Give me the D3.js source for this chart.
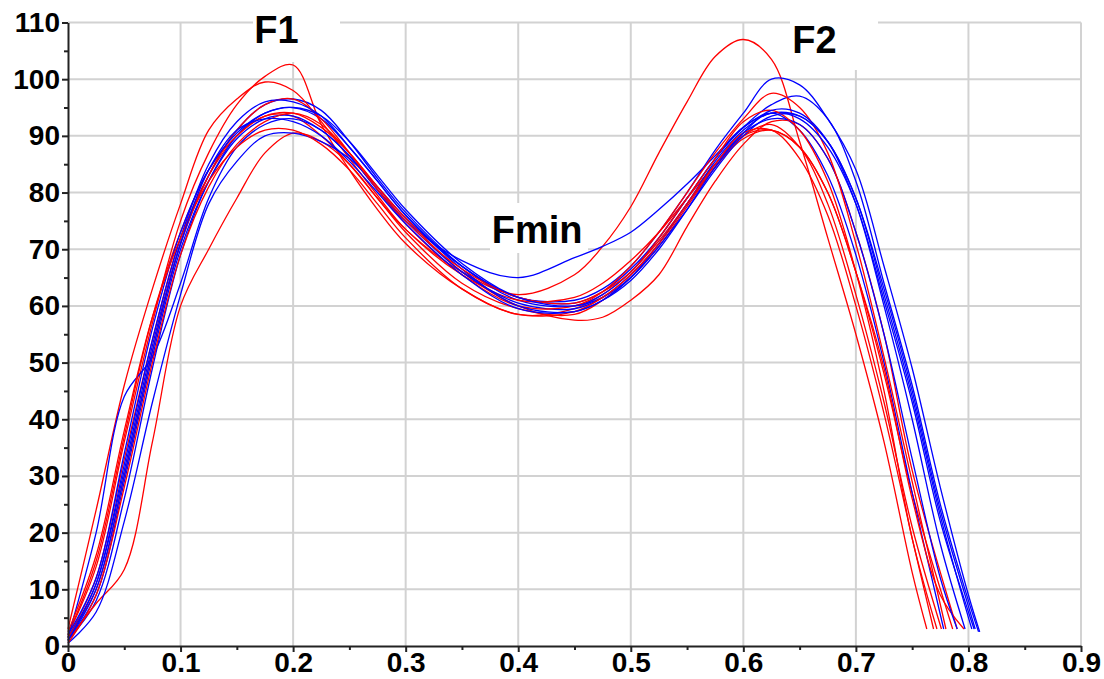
<!DOCTYPE html>
<html><head><meta charset="utf-8">
<script src="https://cdn.jsdelivr.net/npm/d3@7"></script>
<style>body{margin:0;background:#fff}svg{display:block}</style>
</head><body>
<svg id="c" width="1104" height="679"></svg>
<script>
// ---- data ----
const xTicks = [0, 0.1, 0.2, 0.3, 0.4, 0.5, 0.6, 0.7, 0.8, 0.9];
const xTickLabels = ["0", "0.1", "0.2", "0.3", "0.4", "0.5", "0.6", "0.7", "0.8", "0.9"];
const yTicks = [0, 10, 20, 30, 40, 50, 60, 70, 80, 90, 100, 110];
const yTickLabels = ["0", "10", "20", "30", "40", "50", "60", "70", "80", "90", "100", "110"];

// shared sample positions (time, s)
const XS = [0, .025, .05, .075, .1, .125, .15, .175, .2, .225, .25, .275, .3, .35, .4, .45, .475, .5, .525, .55, .575, .6, .625, .65, .675, .7, .725, .75];

// red series (force values at XS) + tail points
const red1 = [1.5, 12, 33, 54, 72, 83, 90, 93.5, 93.5, 90, 85, 79, 73.5, 66, 62, 65.5, 70.5, 77.5, 87, 96, 104, 107, 103.5, 89, 72, 55, 36, 13];
const red1Tail = [[.763, 3]];
const red2 = [2, 14, 36, 57, 75, 87, 95.5, 100.5, 102.5, 92, 84, 77, 71, 63, 58.5, 59.5, 62, 66, 71.5, 78, 84.5, 90, 92, 88, 78, 62, 43, 21];
const red2Tail = [[.776, 3]];
const red3 = [3, 24, 46, 63, 78, 91, 96.5, 99.5, 98, 92.5, 86, 79.5, 73.5, 65.5, 61, 61.5, 64, 68, 73, 79, 85, 90, 91, 88, 80, 66, 48, 27];
const red3Tail = [[.786, 3]];
const red4 = [1, 7.5, 13.5, 36, 60, 70, 79, 87, 90.5, 89, 85, 79, 73, 64, 59.5, 58.5, 61, 65, 70.5, 77.5, 84.5, 89.5, 91, 88, 80, 66, 49, 26];
const red4Tail = [[.775, 9], [.796, 3]];
const red5 = [2, 15, 37, 58, 73, 84, 90, 93.5, 94, 91.5, 87, 81, 75.5, 66, 60, 57.5, 58, 61, 65.5, 74, 82, 88.5, 92.5, 92, 86, 73, 55, 31];
const red5Tail = [[.79, 3]];
const red6 = [1.5, 10, 30, 52, 71, 83, 91, 95.5, 96.5, 93, 87, 80.5, 74.5, 65.5, 60, 60, 62.5, 67, 73, 80, 87, 93, 97.5, 95, 87, 71, 51, 29];
const red6Tail = [[.78, 3]];
const red7 = [0.5, 9, 28, 50, 69, 81, 88.5, 92.5, 94, 92, 87, 81, 75, 66.5, 61.5, 60.5, 62.5, 66, 72, 79, 86, 92.5, 94.5, 91, 82, 66, 45, 19];
const red7Tail = [[.772, 3]];
const red8 = [2.5, 16, 38, 58, 72, 82, 88, 91, 91, 88.5, 84, 78, 72, 63, 58.5, 59, 61.5, 65.5, 71, 78, 85, 90.5, 91, 86, 76, 60, 41, 19];
const red8Tail = [[.769, 3]];

// blue series
const blue1 = [1, 8, 26, 49, 69, 82, 90, 94, 95, 93, 88, 82, 76, 67, 61.5, 61, 63, 67, 73, 80, 87.5, 94, 100, 99, 93, 84, 67, 49];
const blue1Tail = [[.775, 28], [.8, 9], [.81, 2.5]];
const blue2 = [1.5, 11, 31, 53, 71, 83, 91, 95.5, 96.5, 94.5, 89, 82.5, 76.5, 67, 61, 60, 62, 66, 72, 79, 86, 91.5, 95.5, 97, 93, 82, 64, 46];
const blue2Tail = [[.775, 25], [.8, 8], [.809, 2.5]];
const blue3 = [1, 9, 29, 51, 70, 82, 89.5, 93, 93.5, 91, 86.5, 80.5, 75, 68, 65, 68.5, 70.5, 73, 77, 81.5, 86.5, 91.5, 94, 91, 83, 69, 50, 27];
const blue3Tail = [[.778, 3]];
const blue4 = [0.5, 6, 22, 43, 62, 78, 85.5, 90, 90.5, 89, 86, 81, 75.5, 67, 61.5, 60.5, 62.5, 66.5, 72, 79, 86, 91.5, 94, 93.5, 89, 79, 63, 45];
const blue4Tail = [[.775, 24], [.8, 7], [.806, 3]];
const blue5 = [1.5, 20, 44, 51, 64, 79, 88, 92, 93, 91, 86.5, 80.5, 75, 66, 60.5, 59.5, 61.5, 65.5, 71, 78, 85, 90.5, 93, 92, 86, 73, 55, 33];
const blue5Tail = [[.775, 12], [.79, 3]];
const blue6 = [1, 11, 32, 54, 72, 85, 92.5, 96, 96, 93.5, 88, 82, 76, 66.5, 60, 59, 61, 65, 71, 78, 85.5, 91, 94, 93, 88, 78, 61, 43];
const blue6Tail = [[.775, 22], [.8, 6], [.805, 3]];
const blue7 = [2, 12, 34, 56, 73, 84, 90.5, 94, 95, 93.5, 89, 83, 77, 67.5, 61.5, 60, 61.5, 65, 70.5, 77, 84, 90, 93.5, 93.5, 89, 79, 62, 44];
const blue7Tail = [[.775, 23], [.8, 5], [.803, 3]];
const blue8 = [1, 10, 30, 52, 71, 84, 91, 93, 92.5, 90, 85.5, 80, 74.5, 65.5, 59.5, 59, 61, 64.5, 70, 77, 84.5, 90.5, 94.5, 94, 89, 78, 60, 40];
const blue8Tail = [[.775, 18], [.797, 3]];

const labels = [
  {text: "F1", x: 0.1655, y: 106.4},
  {text: "F2", x: 0.6435, y: 104.6},
  {text: "Fmin", x: 0.3765, y: 71.1}
];

// ---- drawing ----
const svg = d3.select("#c");
const x = d3.scaleLinear().domain([0, 0.9]).range([68, 1081]);
const y = d3.scaleLinear().domain([0, 110]).range([646, 22.5]);
const FONT = "'Liberation Sans', Arial, sans-serif";

// grid
const grid = svg.append("g").attr("stroke", "#d2d2d2").attr("stroke-width", 2);
grid.selectAll("line.v").data(xTicks.filter(d => d > 0)).join("line")
  .attr("x1", d => x(d)).attr("x2", d => x(d)).attr("y1", y(0)).attr("y2", y(110));
grid.selectAll("line.h").data(yTicks.filter(d => d > 0)).join("line")
  .attr("x1", x(0)).attr("x2", x(0.9)).attr("y1", d => y(d)).attr("y2", d => y(d));

// white boxes behind labels
svg.append("rect").attr("x", 253).attr("y", 0).attr("width", 87).attr("height", 62).attr("fill", "#fff");
svg.append("rect").attr("x", 790).attr("y", 0).attr("width", 88).attr("height", 70).attr("fill", "#fff");
svg.append("rect").attr("x", 490).attr("y", 203).attr("width", 98).attr("height", 50).attr("fill", "#fff");

// series
const series = [
  [red1, red1Tail, "#ff0000"], [blue1, blue1Tail, "#0000ff"],
  [red2, red2Tail, "#ff0000"], [blue2, blue2Tail, "#0000ff"],
  [red3, red3Tail, "#ff0000"], [blue3, blue3Tail, "#0000ff"],
  [red4, red4Tail, "#ff0000"], [blue4, blue4Tail, "#0000ff"],
  [red5, red5Tail, "#ff0000"], [blue5, blue5Tail, "#0000ff"],
  [red6, red6Tail, "#ff0000"], [blue6, blue6Tail, "#0000ff"],
  [red7, red7Tail, "#ff0000"], [blue7, blue7Tail, "#0000ff"],
  [red8, red8Tail, "#ff0000"], [blue8, blue8Tail, "#0000ff"]
];
const line = d3.line().x(d => x(d[0])).y(d => y(d[1])).curve(d3.curveCatmullRom.alpha(0.5));
svg.append("g").selectAll("path").data(series).join("path")
  .attr("d", s => line(XS.map((xv, i) => [xv, s[0][i]]).concat(s[1])))
  .attr("fill", "none").attr("stroke", s => s[2]).attr("stroke-width", 1.3);

// axes
svg.append("g").attr("transform", `translate(${x(0)},0)`)
  .call(d3.axisLeft(y).tickValues(yTicks).tickSize(6).tickSizeOuter(0).tickPadding(2)
    .tickFormat((d, i) => yTickLabels[i]));
svg.append("g").attr("transform", `translate(${x(0)},0)`)
  .call(d3.axisLeft(y).tickValues(d3.range(5, 110, 10)).tickSize(4).tickSizeOuter(0).tickFormat(""))
  .call(g => g.select(".domain").remove());
svg.append("g").attr("transform", `translate(0,${y(0)})`)
  .call(d3.axisBottom(x).tickValues(xTicks).tickSize(6).tickSizeOuter(0).tickPadding(0)
    .tickFormat((d, i) => xTickLabels[i]));
svg.append("g").attr("transform", `translate(0,${y(0)})`)
  .call(d3.axisBottom(x).tickValues(d3.range(0.05, 0.9, 0.1)).tickSize(4).tickSizeOuter(0).tickFormat(""))
  .call(g => g.select(".domain").remove());
svg.selectAll(".domain, .tick line").attr("stroke", "#222").attr("stroke-width", 2);
svg.selectAll(".tick text").attr("font-family", FONT).attr("font-weight", "bold")
  .attr("font-size", 28).attr("fill", "#000");

// annotation labels
svg.append("g").selectAll("text").data(labels).join("text")
  .attr("x", d => x(d.x)).attr("y", d => y(d.y))
  .attr("font-family", FONT).attr("font-weight", "bold").attr("font-size", 38)
  .attr("fill", "#000").text(d => d.text);
</script>
</body></html>
